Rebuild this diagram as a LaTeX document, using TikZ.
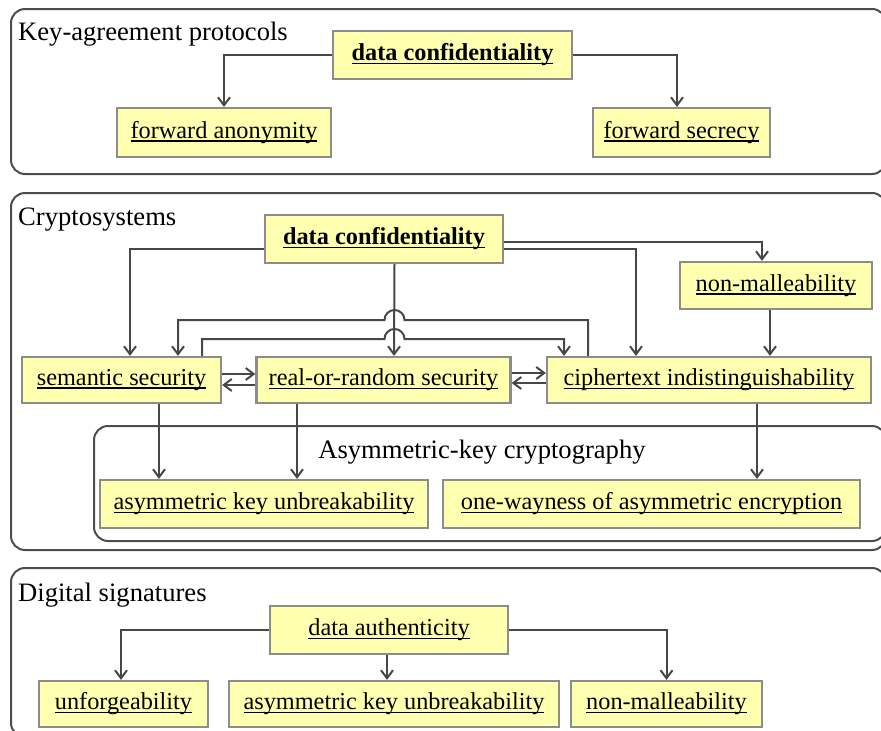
\documentclass[tikz,border=0pt]{standalone}
\usepackage{fontspec}
\setmainfont{Liberation Serif}
\usetikzlibrary{arrows.meta}
\definecolor{boxfill}{HTML}{FFFFB0}
\definecolor{boxline}{HTML}{8C8C8C}
\definecolor{wirecol}{HTML}{474747}
\definecolor{framecol}{HTML}{4D4D4D}
% underline set just below the baseline, crossing the descenders
\newcommand\ulx[1]{\setbox0=\hbox{#1}\rlap{\rule[-3.2pt]{\wd0}{1.2pt}}\box0}

\begin{document}
\begin{tikzpicture}[x=1pt,y=-1pt,
  prop/.style={draw=boxline,line width=2.2pt,fill=boxfill,inner sep=0pt,
    minimum height=48pt,font=\fontsize{24.3}{28}\selectfont},
  panel/.style={draw=framecol,line width=2pt,rounded corners=14pt},
  ptitle/.style={inner sep=0pt,font=\fontsize{26.6}{30}\selectfont},
  arr/.style={draw=wirecol,line width=2pt,-{Straight Barb[length=8pt,width=12pt]}}]
\useasboundingbox (0,0) rectangle (881,731);
\clip (0,0) rectangle (881,731);

% ---------- panels ----------
\draw[panel] (11,9) rectangle (886,174);
\draw[panel] (11,193) rectangle (886,550);
\draw[panel] (94,426) rectangle (886,541);
\draw[panel] (11,568) rectangle (886,737);

\node[ptitle,anchor=base west] (t1) at (18,40.5) {Key-agreement protocols};
\node[ptitle,anchor=base west] (t2) at (18,225) {Cryptosystems};
\node[ptitle,anchor=base] (t3) at (482,458) {Asymmetric-key cryptography};
\node[ptitle,anchor=base west] (t4) at (18,601) {Digital signatures};

% ---------- key-agreement protocols ----------
\node[prop,minimum width=239pt] (dc1) at (452.5,55) {\ulx{\bfseries data confidentiality}};
\node[prop,minimum width=214pt,minimum height=49pt] (fa) at (224,132.5) {\ulx{forward anonymity}};
\node[prop,minimum width=177pt,minimum height=49pt] (fs) at (681.5,132.5) {\ulx{forward secrecy}};

\draw[arr] (dc1.west) -| (fa.north);
\draw[arr] (dc1.east) -| ([xshift=-4.5pt]fs.north);

% ---------- cryptosystems ----------
\node[prop,minimum width=238pt] (dc2) at (384,239) {\ulx{\bfseries data confidentiality}};
\node[prop,minimum width=192pt,minimum height=47pt] (nm2) at (776,285.5) {\ulx{non-malleability}};
\node[prop,minimum width=199pt,minimum height=46pt] (ss) at (121.5,380) {\ulx{semantic security}};
\node[prop,minimum width=254pt,minimum height=46pt] (rr) at (383.5,380) {\ulx{real-or-random security}};
\node[prop,minimum width=324pt,minimum height=46pt] (ct) at (709,380) {\ulx{ciphertext indistinguishability}};
\node[prop,minimum width=328pt] (aku1) at (264,504) {\ulx{asymmetric key unbreakability}};
\node[prop,minimum width=417pt] (ow) at (651.5,504) {\ulx{one-wayness of asymmetric encryption}};

\draw[arr] ([yshift=-10pt]dc2.west) -| ([xshift=8.5pt]ss.north);
\draw[arr] ([yshift=-3pt]dc2.east) -| ([xshift=-14pt]nm2.north);
\draw[arr] ([yshift=-10pt]dc2.east) -| ([xshift=-73pt]ct.north);
\draw[arr] ([xshift=10.5pt]dc2.south) -- ([xshift=10.5pt]rr.north);
\draw[arr] ([xshift=-6pt]nm2.south) -- ([xshift=61pt]ct.north);

% cross links hopping over the vertical line
\draw[arr] ([xshift=-121pt]ct.north) |- (404.5,320)
  arc[start angle=0,end angle=180,radius=10pt] -| ([xshift=56.5pt]ss.north);
\draw[arr] ([xshift=80.5pt]ss.north) |- (384.5,339)
  arc[start angle=180,end angle=0,radius=10pt] -| ([xshift=-145pt]ct.north);

% equivalences between neighbours
\draw[arr] ([yshift=6pt]ss.east) -- ([yshift=6pt]rr.west);
\draw[arr] ([yshift=-5pt]rr.west) -- ([yshift=-5pt]ss.east);
\draw[arr] ([yshift=7pt]rr.east) -- ([yshift=7pt]ct.west);
\draw[arr] ([yshift=-3pt]ct.west) -- ([yshift=-3pt]rr.east);

\draw[arr] ([xshift=37.5pt]ss.south) -- ([xshift=37.5pt]ss.south |- aku1.north);
\draw[arr] ([xshift=-86.5pt]rr.south) -- ([xshift=-86.5pt]rr.south |- aku1.north);
\draw[arr] ([xshift=48pt]ct.south) -- ([xshift=48pt]ct.south |- ow.north);

% ---------- digital signatures ----------
\node[prop,minimum width=238pt] (da) at (389,630) {\ulx{data authenticity}};
\node[prop,minimum width=169pt,minimum height=46pt] (uf) at (123.5,704) {\ulx{unforgeability}};
\node[prop,minimum width=330pt,minimum height=46pt] (aku2) at (394,704) {\ulx{asymmetric key unbreakability}};
\node[prop,minimum width=191pt,minimum height=46pt] (nm3) at (666.5,704) {\ulx{non-malleability}};

\draw[arr] (da.west) -| ([xshift=-2.5pt]uf.north);
\draw[arr] ([xshift=-2pt]da.south) -- ([xshift=-2pt]da.south |- aku2.north);
\draw[arr] (da.east) -| (nm3.north);
\end{tikzpicture}
\end{document}
